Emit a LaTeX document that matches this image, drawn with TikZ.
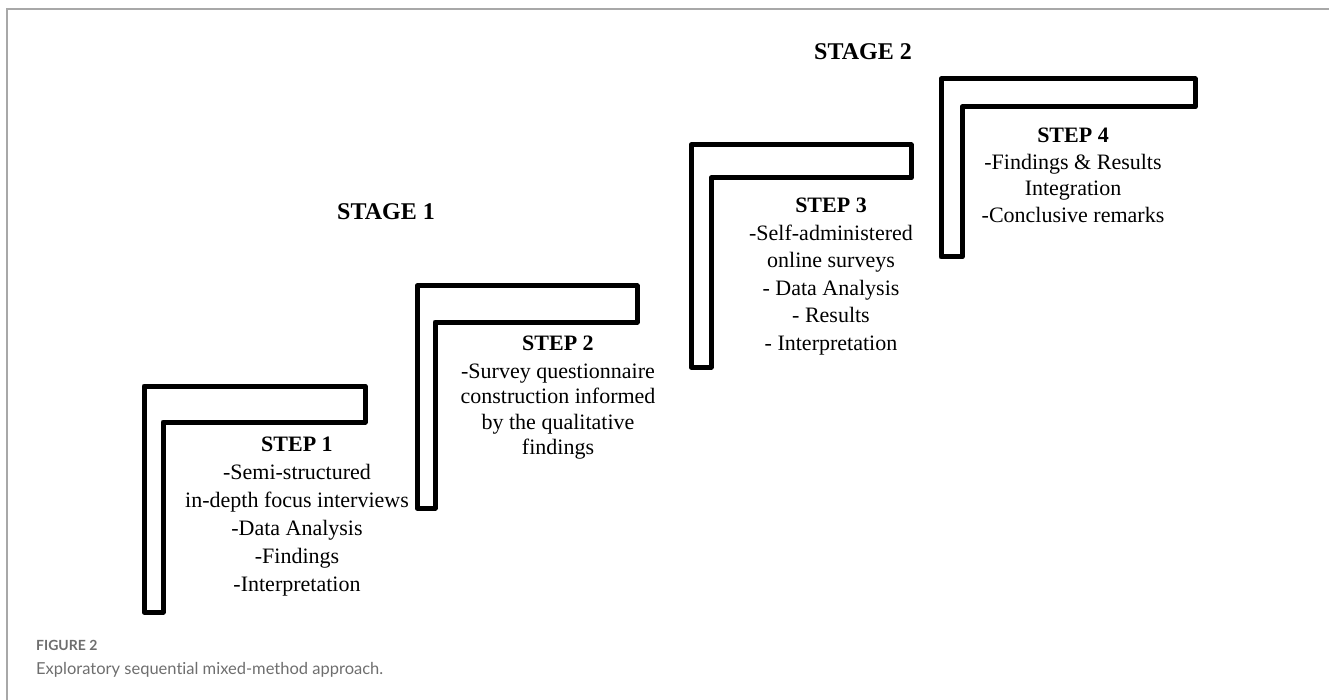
\documentclass[tikz,border=0pt]{standalone}
\usepackage{fontspec}
\setmainfont{Liberation Serif}
\newfontfamily\capfont[Ligatures=NoCommon]{Lato}
\definecolor{framegray}{HTML}{A8A8A8}
\definecolor{capgray}{HTML}{6E6E6E}
\begin{document}
\begin{tikzpicture}[x=1pt,y=-1pt,
  lshape/.style={draw=black,line width=5pt,line join=round},
  steptext/.style={align=center,anchor=north,inner sep=0pt},
  stagetext/.style={font=\fontsize{24}{28}\selectfont\bfseries,inner sep=0pt},
  captext/.style={anchor=base west,inner sep=0pt,text=capgray}]
\useasboundingbox (0,0) rectangle (1329,700);
\draw[framegray,line width=1.5pt] (7,700) -- (7,9) -- (1329,9);
% L-shaped steps
\draw[lshape] (144,386) -- (365,386) -- (365,422) -- (163,422) -- (163,612) -- (144,612) -- cycle;
\draw[lshape] (417,286) -- (637,286) -- (637,322) -- (435,322) -- (435,508) -- (417,508) -- cycle;
\draw[lshape] (691,145) -- (911,145) -- (911,178) -- (711,178) -- (711,367) -- (691,367) -- cycle;
\draw[lshape] (941,79) -- (1195,79) -- (1195,107) -- (962,107) -- (962,257) -- (941,257) -- cycle;
% stage labels
\node[stagetext] (stage1) at (386,212) {STAGE 1};
\node[stagetext] (stage2) at (863,52) {STAGE 2};
% step texts
\node[steptext,font=\fontsize{22}{28}\selectfont] (step1) at (297,437)
  {\textbf{STEP 1}\\-Semi-structured\\in-depth focus interviews\\-Data Analysis\\-Findings\\-Interpretation};
\node[steptext,font=\fontsize{22}{25.5}\selectfont] (step2) at (558,336)
  {\textbf{STEP 2}\\[2pt]-Survey questionnaire\\construction informed\\by the qualitative\\findings};
\node[steptext,font=\fontsize{22}{27.5}\selectfont] (step3) at (831,198)
  {\textbf{STEP 3}\\-Self-administered\\online surveys\\- Data Analysis\\- Results\\- Interpretation};
\node[steptext,font=\fontsize{22}{26.5}\selectfont] (step4) at (1073,128)
  {\textbf{STEP 4}\\-Findings \& Results\\Integration\\-Conclusive remarks};
% caption
\node[captext,font=\capfont\fontsize{14}{16}\selectfont\bfseries] (figlabel) at (36,650) {FIGURE 2};
\node[captext,font=\capfont\fontsize{16.5}{20}\selectfont] (figcap) at (36,674) {Exploratory sequential mixed-method approach.};
\end{tikzpicture}
\end{document}
